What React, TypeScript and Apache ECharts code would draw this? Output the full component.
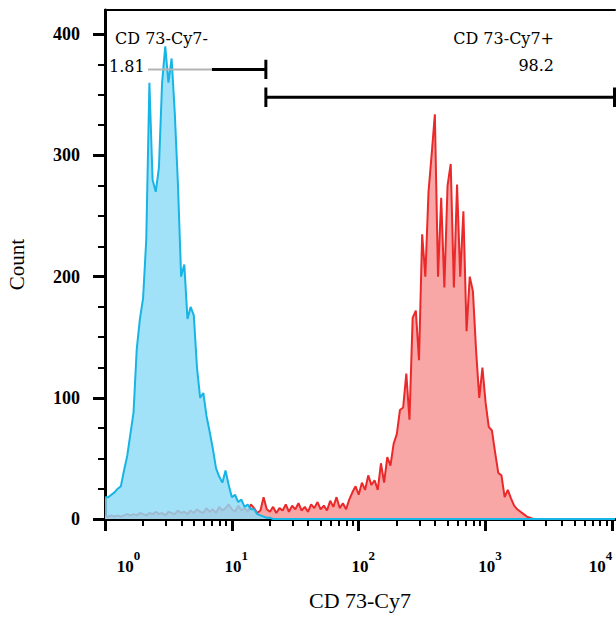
import React, { useEffect, useRef } from "react";
import * as echarts from "echarts";

// histogram bins on a log10 grid (decades from 10^0)
const binStep = 0.025;

// CD 73-Cy7 negative population (blue), counts per bin starting at 10^0
const blueCounts = [
  18, 18, 20, 22, 25, 27, 40, 52, 70, 88,
  140, 165, 182, 230, 360, 280, 270, 290, 360, 390,
  360, 380, 335, 276, 200, 210, 165, 175, 168, 125,
  100, 104, 85, 72, 58, 42, 35, 30, 40, 28,
  18, 20, 14, 16, 10, 12, 8, 8, 4, 3,
  2, 1, 1, 0,
];
// baseline of the blue trace runs to the end of the axis
const blueTail = [[4.02, 0]];

// CD 73-Cy7 positive population (red), counts per bin starting at 10^0
const redCounts = [
  2, 2, 3, 2, 3, 2, 3, 4, 3, 4,
  3, 5, 4, 3, 5, 4, 6, 4, 5, 3,
  6, 5, 4, 7, 5, 6, 4, 7, 5, 8,
  6, 5, 9, 6, 8, 5, 10, 7, 9, 12,
  8, 6, 11, 7, 9, 6, 12, 9, 5, 7,
  18, 8, 6, 10, 5, 9, 7, 12, 6, 11,
  8, 13, 7, 10, 6, 12, 9, 14, 8, 11,
  7, 15, 10, 18, 9, 13, 8, 16, 22, 27,
  20, 30, 24, 36, 28, 32, 24, 46, 30, 51,
  44, 62, 70, 90, 92, 120, 82, 166, 172, 131,
  235, 200, 270, 301, 334, 200, 265, 191, 275, 293,
  191, 276, 200, 254, 155, 200, 188, 139, 100, 125,
  96, 76, 73, 55, 38, 36, 18, 24, 17, 11,
  8, 6, 4, 2, 1, 0,
];

const xMax = 4.02;
const yMax = 420;
const xDecades = [0, 1, 2, 3, 4];
const xMinorMultipliers = [2, 3, 4, 5, 6, 7, 8, 9];
const yTicks = [0, 100, 200, 300, 400];
const yMinorTicks = [25, 50, 75, 125, 150, 175, 225, 250, 275, 325, 350, 375];

// gates (log10 position of the split, heights in counts)
const gateNegStart = 0.339;
const gateNegGrayEnd = 0.843;
const gateSplit = 1.268;
const gateEnd = 4.016;
const gateNegY = 371;
const gatePosY = 348;
const gateHalf = 8;
const gateNegName = "CD 73-Cy7-";
const gateNegPct = "1.81";
const gatePosName = "CD 73-Cy7+";
const gatePosPct = "98.2";

const xTitle = "CD 73-Cy7";
const yTitle = "Count";

const serif = "'Liberation Serif', 'Times New Roman', serif";
const gateFont = "'DejaVu Serif', serif";

export default function App() {
  const ref = useRef<HTMLDivElement>(null);

  useEffect(() => {
    if (!ref.current) return;
    document.body.style.margin = "0";
    const chart = echarts.init(ref.current, undefined, { renderer: "svg" });

    const blueData = blueCounts.map((c, i) => [i * binStep, c]).concat(blueTail);
    const redData = redCounts.map((c, i) => [i * binStep, c]);
    const xMinor: number[] = [];
    for (let d = 0; d < 4; d++) {
      xMinorMultipliers.forEach((m) => xMinor.push(d + Math.log10(m)));
    }

    const blackLine = { color: "#000", width: 3 };
    const base = { fontFamily: serif, fontWeight: "bold", fontSize: 17, color: "#000", lineHeight: 26, verticalAlign: "bottom" };
    const sup = { fontFamily: serif, fontWeight: "bold", fontSize: 13, color: "#000", verticalAlign: "top" };

    const option: any = {
      animation: false,
      backgroundColor: "#fff",
      grid: { left: 105, right: 1, top: 10, bottom: 109, outerBoundsMode: "none", containLabel: false },
      xAxis: [
        {
          type: "value",
          min: 0,
          max: xMax,
          position: "bottom",
          splitLine: { show: false },
          axisLine: { show: true, lineStyle: blackLine },
          axisTick: {
            show: true,
            customValues: xDecades,
            length: 12,
            lineStyle: { color: "#000", width: 3 },
          },
          axisLabel: {
            customValues: xDecades,
            margin: 30,
            hideOverlap: false,
            formatter: (v: number) => {
              const e = Math.round(v);
              if (e === 0) return `{f|10}{s|${e}}`;
              if (e === 4) return `{l|10}{sl|${e}}`;
              return `{b|10}{s|${e}}`;
            },
            rich: {
              b: { ...base, padding: [0, 0, 0, 9] },
              f: { ...base, padding: [0, 0, 0, 47] },
              l: { ...base },
              s: { ...sup },
              sl: { ...sup, padding: [0, 24, 0, 0] },
            },
          },
          name: xTitle,
          nameLocation: "middle",
          nameGap: 70,
          nameTextStyle: { fontFamily: serif, fontSize: 22, color: "#000" },
        },
        {
          type: "value",
          min: 0,
          max: xMax,
          position: "bottom",
          splitLine: { show: false },
          axisLine: { show: false },
          axisTick: {
            show: true,
            customValues: xMinor,
            length: 7,
            lineStyle: { color: "#000", width: 2 },
          },
          axisLabel: { show: false },
        },
        {
          type: "value",
          min: 0,
          max: xMax,
          position: "top",
          splitLine: { show: false },
          axisLine: { show: true, lineStyle: { color: "#000", width: 2 } },
          axisTick: { show: false },
          axisLabel: { show: false },
        },
      ],
      yAxis: [
        {
          type: "value",
          min: 0,
          max: yMax,
          splitLine: { show: false },
          axisLine: { show: true, lineStyle: blackLine },
          axisTick: {
            show: true,
            customValues: yTicks,
            length: 12,
            lineStyle: { color: "#000", width: 3 },
          },
          axisLabel: {
            customValues: yTicks,
            margin: 25,
            fontFamily: serif,
            fontWeight: "bold",
            fontSize: 18,
            color: "#000",
          },
          name: yTitle,
          nameLocation: "middle",
          nameGap: 78,
          nameTextStyle: { fontFamily: serif, fontSize: 21, color: "#000" },
        },
        {
          type: "value",
          min: 0,
          max: yMax,
          position: "left",
          splitLine: { show: false },
          axisLine: { show: false },
          axisTick: {
            show: true,
            customValues: yMinorTicks,
            length: 7,
            lineStyle: { color: "#000", width: 2 },
          },
          axisLabel: { show: false },
        },
      ],
      series: [
        {
          type: "line",
          data: redData,
          xAxisIndex: 0,
          yAxisIndex: 0,
          symbol: "none",
          lineStyle: { color: "#ea2a2a", width: 2 },
          itemStyle: { color: "#ea2a2a" },
          areaStyle: { color: "#f9a6a6", opacity: 1 },
          z: 2,
        },
        {
          type: "line",
          data: blueData,
          xAxisIndex: 0,
          yAxisIndex: 0,
          symbol: "none",
          lineStyle: { color: "#17b4e6", width: 2 },
          itemStyle: { color: "#17b4e6" },
          areaStyle: { color: "#8edcf8", opacity: 0.82 },
          z: 3,
        },
        {
          type: "line",
          data: [[gateNegStart, gateNegY], [gateNegGrayEnd, gateNegY]],
          symbol: "none",
          lineStyle: { color: "#b4b4b4", width: 2 },
          z: 5,
        },
        {
          type: "line",
          data: [
            [gateNegGrayEnd, gateNegY],
            [gateSplit, gateNegY],
            [gateSplit, gateNegY + gateHalf],
            [gateSplit, gateNegY - gateHalf],
          ],
          symbol: "none",
          lineStyle: { color: "#000", width: 3 },
          z: 5,
        },
        {
          type: "line",
          data: [
            [gateSplit, gatePosY + gateHalf],
            [gateSplit, gatePosY - gateHalf],
            [gateSplit, gatePosY],
            [gateEnd, gatePosY],
            [gateEnd, gatePosY + gateHalf],
            [gateEnd, gatePosY - gateHalf],
          ],
          symbol: "none",
          lineStyle: { color: "#000", width: 3 },
          z: 5,
        },
      ],
      graphic: [
        { type: "text", left: 115, top: 30, style: { text: gateNegName, font: `16px ${gateFont}`, fill: "#000" }, z: 10 },
        { type: "text", left: 109, top: 58, style: { text: gateNegPct, font: `16px ${gateFont}`, fill: "#000" }, z: 10 },
        { type: "text", right: 62, top: 30, style: { text: gatePosName, font: `16px ${gateFont}`, fill: "#000" }, z: 10 },
        { type: "text", right: 62, top: 57, style: { text: gatePosPct, font: `16px ${gateFont}`, fill: "#000" }, z: 10 },
      ],
    };

    chart.setOption(option);
    return () => chart.dispose();
  }, []);

  return <div ref={ref} style={{ width: 616, height: 628 }} />;
}
